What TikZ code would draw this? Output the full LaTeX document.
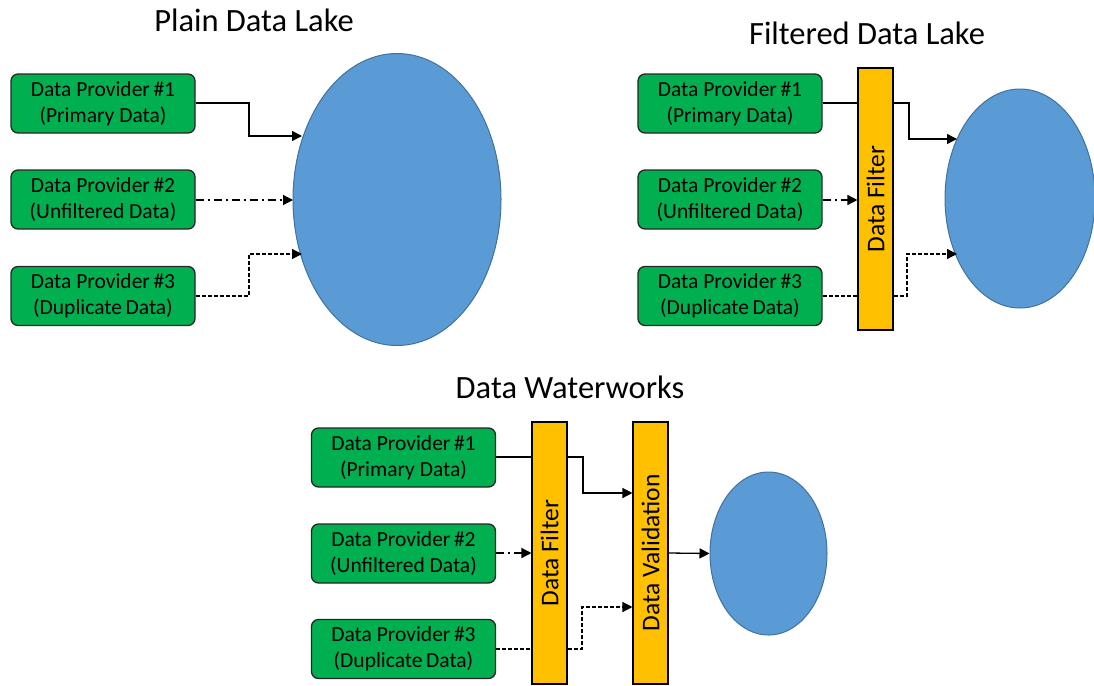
\documentclass[tikz,border=0pt]{standalone}
\usepackage{fontspec}
\setmainfont{Carlito}
\usetikzlibrary{arrows.meta,shapes.geometric}
\definecolor{provgreen}{HTML}{00B050}
\definecolor{filtyellow}{HTML}{FFC000}
\definecolor{lakeblue}{HTML}{5B9BD5}
\definecolor{lakeedge}{HTML}{41719C}
\tikzset{
  prov/.style={draw=black!85, line width=1.3pt, fill=provgreen, rounded corners=7pt,
    minimum width=184pt, minimum height=59pt, inner sep=0pt, align=center,
    font=\fontsize{21.5}{26}\selectfont},
  filt/.style={draw=black, line width=1.1pt, fill=filtyellow, minimum width=35pt,
    minimum height=262pt, inner sep=0pt},
  filttext/.style={rotate=90, font=\fontsize{25.5}{28}\selectfont},
  lake/.style={draw=lakeedge, line width=1pt, fill=lakeblue, ellipse, inner sep=0pt},
  ttl/.style={font=\fontsize{32.5}{36}\selectfont},
  conn/.style={line width=1.3pt, -{Triangle[length=10pt,width=10pt]}},
  connplain/.style={line width=1.3pt},
  dd/.style={dash pattern=on 8pt off 4pt on 2pt off 4pt},
  ds/.style={dash pattern=on 4pt off 2pt},
}
\begin{document}
\begin{tikzpicture}[x=1pt,y=-1pt]
\useasboundingbox (0,0) rectangle (1094,685);
% ---------- Plain Data Lake ----------
\node[ttl] (t1) at (254,20) {Plain Data Lake};
\node[prov] (a1) at (103,103.5) {Data Provider\,\#1\\(Primary Data)};
\node[prov] (a2) at (103,199.5) {Data Provider\,\#2\\(Unfiltered Data)};
\node[prov] (a3) at (103,296) {Data Provider\,\#3\\(Duplicate\,Data)};
\node[lake, minimum width=208pt, minimum height=292pt] (l1) at (397,199.5) {};
\coordinate (l1a) at (302,136);
\coordinate (l1b) at (293,200);
\coordinate (l1c) at (302,254);
\draw[conn] (a1.east |- 0,103) -| (249,136) -- (l1a);
\draw[conn,dd] (a2.east |- 0,200) -- (l1b);
\draw[conn,ds] (a3.east |- 0,296) -| (249,254) -- (l1c);
% ---------- Filtered Data Lake ----------
\node[ttl] (t2) at (867,33) {Filtered Data Lake};
\node[prov] (b1) at (730,103.5) {Data Provider\,\#1\\(Primary Data)};
\node[prov] (b2) at (730,199.5) {Data Provider\,\#2\\(Unfiltered Data)};
\node[prov] (b3) at (730,296) {Data Provider\,\#3\\(Duplicate\,Data)};
\node[filt] (f2) at (875.5,199) {};
\node[filttext] at (f2.center) {Data Filter};
\node[lake, minimum width=150pt, minimum height=219pt] (l2) at (1020,198.5) {};
\coordinate (l2a) at (957,139);
\coordinate (l2c) at (957,254);
\draw[connplain] (b1.east |- 0,103) -- (f2.west |- 0,103);
\draw[conn] (f2.east |- 0,103) -| (909,139) -- (l2a);
\draw[conn,dd] (b2.east |- 0,200) -- (f2.west |- 0,200);
\draw[connplain,ds] (b3.east |- 0,296) -- (f2.west |- 0,296);
\draw[conn,ds] (f2.east |- 0,296) -| (907,254) -- (l2c);
% ---------- Data Waterworks ----------
\node[ttl] (t3) at (570,387) {Data Waterworks};
\node[prov] (c1) at (403.5,457.5) {Data Provider\,\#1\\(Primary Data)};
\node[prov] (c2) at (403.5,553.5) {Data Provider\,\#2\\(Unfiltered Data)};
\node[prov] (c3) at (403.5,649) {Data Provider\,\#3\\(Duplicate\,Data)};
\node[filt] (f3) at (549.5,553) {};
\node[filttext] at (f3.center) {Data Filter};
\node[filt] (v3) at (650.5,553) {};
\node[filttext] at (v3.center) {Data Validation};
\node[lake, minimum width=117pt, minimum height=163pt] (l3) at (768.5,553.5) {};
\draw[connplain] (c1.east |- 0,457) -- (f3.west |- 0,457);
\draw[conn] (f3.east |- 0,457) -| (583,493) -- (v3.west |- 0,493);
\draw[conn,dd] (c2.east |- 0,553) -- (f3.west |- 0,553);
\draw[connplain,ds] (c3.east |- 0,649) -- (f3.west |- 0,649);
\draw[conn,ds] (f3.east |- 0,649) -| (582,607) -- (v3.west |- 0,607);
\draw[conn] (v3.east |- 0,553) -- (l3.west);
\end{tikzpicture}
\end{document}
